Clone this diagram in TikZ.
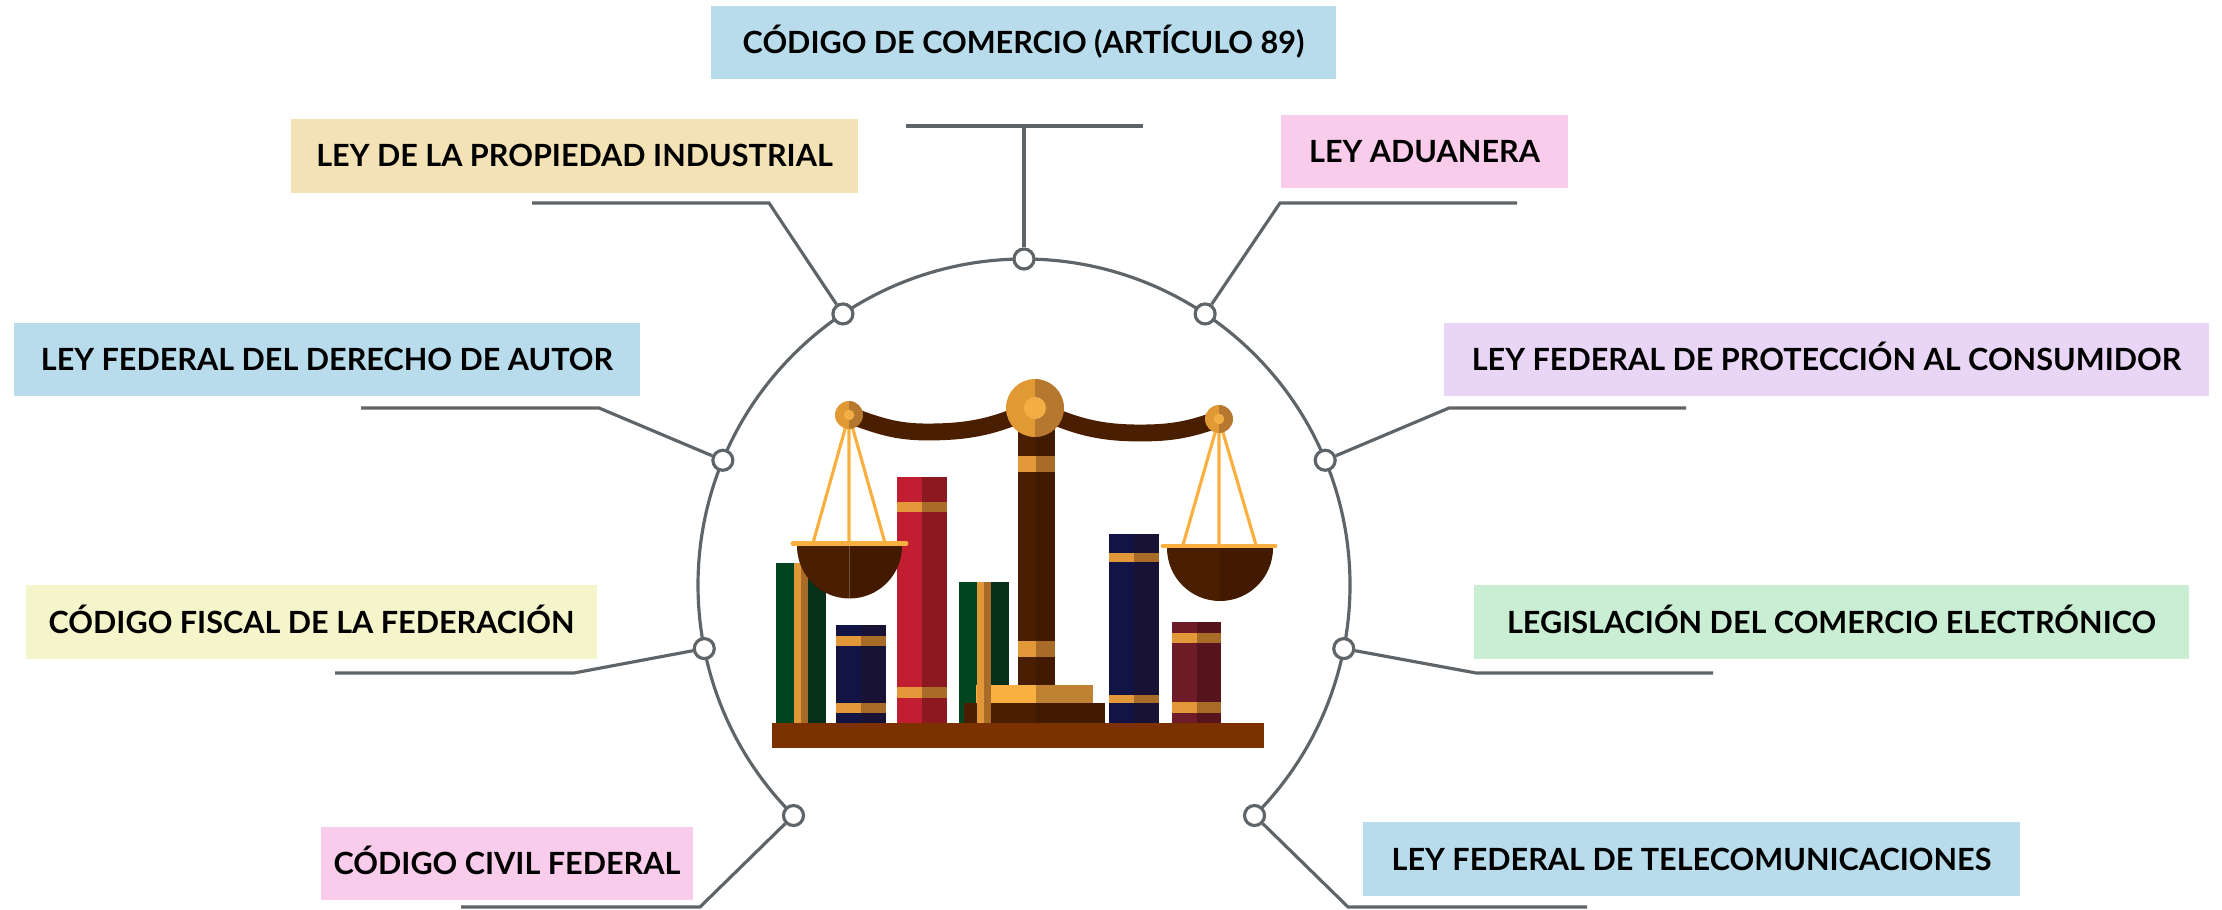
\documentclass[tikz,border=0pt]{standalone}
\usepackage{fontspec}
\setmainfont{Lato}
\definecolor{linegray}{HTML}{5F6468}
\definecolor{boxBlue}{HTML}{B8DCEB}
\definecolor{boxTan}{HTML}{F3E2B5}
\definecolor{boxPink}{HTML}{F9CCEC}
\definecolor{boxLilac}{HTML}{E9D5F5}
\definecolor{boxYellow}{HTML}{F5F5CC}
\definecolor{boxMint}{HTML}{C9EED4}
\definecolor{brownL}{HTML}{4A1E00}
\definecolor{brownD}{HTML}{421A00}
\definecolor{shelf}{HTML}{7B3100}
\definecolor{goldL}{HTML}{FAB040}
\definecolor{goldD}{HTML}{BE8232}
\definecolor{bandL}{HTML}{E29838}
\definecolor{bandD}{HTML}{A86C28}
\definecolor{knobL}{HTML}{E19934}
\definecolor{knobD}{HTML}{B5782E}
\definecolor{knobIn}{HTML}{F2AE44}
\definecolor{greenL}{HTML}{004520}
\definecolor{greenD}{HTML}{073018}
\definecolor{navyL}{HTML}{121446}
\definecolor{navyD}{HTML}{181234}
\definecolor{redL}{HTML}{C11E32}
\definecolor{redD}{HTML}{8C1820}
\definecolor{maroonL}{HTML}{6E1C28}
\definecolor{maroonD}{HTML}{58141C}
\begin{document}
\begin{tikzpicture}[x=0.01cm, y=0.01cm,
    wire/.style={draw=linegray, line width=0.9pt},
    dot/.style={circle, draw=linegray, fill=white, line width=0.9pt, minimum size=0.2cm, inner sep=0pt},
    law/.style={inner sep=0pt, minimum height=0.73cm, text height=0.22cm, text depth=0pt, font=\fontsize{8.7}{10}\selectfont\bfseries},
    beam/.style={draw=brownL, line width=4.8pt}]
    \useasboundingbox (0,0) rectangle (2222,909);

    % labels
    \node[law, fill=boxBlue, minimum width=6.25cm] (lCom) at (1023.5,866.5) {CÓDIGO DE COMERCIO (ARTÍCULO 89)};
    \node[law, fill=boxTan, minimum width=5.67cm] (lProp) at (574.5,753) {LEY DE LA PROPIEDAD INDUSTRIAL};
    \node[law, fill=boxPink, minimum width=2.87cm] (lAdu) at (1424.5,757.5) {LEY ADUANERA};
    \node[law, fill=boxBlue, minimum width=6.26cm] (lAut) at (327,549.5) {LEY FEDERAL DEL DERECHO DE AUTOR};
    \node[law, fill=boxLilac, minimum width=7.65cm] (lCons) at (1826.5,549.5) {LEY FEDERAL DE PROTECCIÓN AL CONSUMIDOR};
    \node[law, fill=boxYellow, minimum width=5.71cm] (lFis) at (311.5,287) {CÓDIGO FISCAL DE LA FEDERACIÓN};
    \node[law, fill=boxMint, minimum width=7.15cm] (lElec) at (1831.5,287) {LEGISLACIÓN DEL COMERCIO ELECTRÓNICO};
    \node[law, fill=boxPink, minimum width=3.72cm] (lCiv) at (507,45.5) {CÓDIGO CIVIL FEDERAL};
    \node[law, fill=boxBlue, minimum width=6.57cm] (lTel) at (1691.5,50) {LEY FEDERAL DE TELECOMUNICACIONES};

    % ring
    \coordinate (c) at (1024,324);
    \draw[wire] (c) ++(-45:326) arc[start angle=-45, end angle=225, radius=326];

    % books
    \foreach \xa/\xm/\xb/\yt/\cl/\cd in {776/801/826/346/greenL/greenD, 836/861/886/284/navyL/navyD,
        897/922/947/432/redL/redD, 959/984/1009/327/greenL/greenD,
        1109/1134/1159/375/navyL/navyD, 1172/1197/1221/287/maroonL/maroonD}
    {
        \fill[\cl] (\xa,186) rectangle (\xm,\yt);
        \fill[\cd] (\xm,186) rectangle (\xb,\yt);
    }
    \fill[shelf] (772,161) rectangle (1264,186);

    % stand
    \fill[brownL] (964,186) rectangle (1036,206);
    \fill[brownD] (1036,186) rectangle (1105,206);
    \fill[goldL] (976,206) rectangle (1036,224);
    \fill[goldD] (1036,206) rectangle (1093,224);
    \fill[brownL] (1018,224) rectangle (1036,501);
    \fill[brownD] (1036,224) rectangle (1055,501);

    % bands
    \foreach \xa/\xm/\xb/\ya/\yb in {794/801/808/186/346, 977/984/991/186/327,
        836/861/886/263/273, 836/861/886/196/206, 897/922/947/397/407, 897/922/947/211/222,
        1109/1134/1159/347/356, 1109/1134/1159/206/214, 1172/1197/1221/266/276, 1172/1197/1221/196/207,
        1018/1036/1055/437/453, 1018/1036/1055/252/268}
    {
        \fill[bandL] (\xa,\ya) rectangle (\xm,\yb);
        \fill[bandD] (\xm,\ya) rectangle (\xb,\yb);
    }

    % beam
    \coordinate (lk) at (849,494);
    \coordinate (ck) at (1035,501);
    \coordinate (rk) at (1219,490);
    \draw[beam] (lk) to[out=-20, in=180] (927,477) to[out=0, in=-155] (ck);
    \draw[beam] (ck) to[out=-25, in=180] (1140,476) to[out=0, in=-160] (rk);

    % pans
    \draw[goldL, line width=0.9pt] (813,366) -- (lk) -- (885,366) (lk) -- (849,366);
    \draw[goldL, line width=0.9pt] (1183,364) -- (rk) -- (1256,364) (rk) -- (1219,364);
    \fill[brownL] (849.5,363) -- (797,363) arc[start angle=180, end angle=270, radius=52.5] -- cycle;
    \fill[brownD] (849.5,363) -- (849.5,310.5) arc[start angle=270, end angle=360, radius=52.5] -- cycle;
    \fill[brownL] (1220,361) -- (1167,361) arc[start angle=180, end angle=270, radius=53] -- cycle;
    \fill[brownD] (1220,361) -- (1220,308) arc[start angle=270, end angle=360, radius=53] -- cycle;
    \draw[goldL, line width=1.4pt, line cap=round] (793,365.5) -- (906,365.5);
    \draw[goldL, line width=1.4pt, line cap=round] (1163,363) -- (1275,363);

    % knobs
    \foreach \p/\r in {lk/14, rk/14, ck/29}
    {
        \fill[knobL] (\p) ++(0,-\r) arc[start angle=270, end angle=90, radius=\r] -- cycle;
        \fill[knobD] (\p) ++(0,-\r) arc[start angle=-90, end angle=90, radius=\r] -- cycle;
        \fill[knobIn] (\p) circle[radius=\r*0.38];
    }

    % dots
    \path (c) ++(90:326) node[dot] (dCom) {};
    \path (c) ++(123.75:326) node[dot] (dProp) {};
    \path (c) ++(56.25:326) node[dot] (dAdu) {};
    \path (c) ++(157.5:326) node[dot] (dAut) {};
    \path (c) ++(22.5:326) node[dot] (dCons) {};
    \path (c) ++(191.25:326) node[dot] (dFis) {};
    \path (c) ++(-11.25:326) node[dot] (dElec) {};
    \path (c) ++(225:326) node[dot] (dCiv) {};
    \path (c) ++(-45:326) node[dot] (dTel) {};

    % leaders
    \coordinate (eCom) at (1024,783);
    \coordinate (eComL) at (906,783);
    \coordinate (eComR) at (1143,783);
    \draw[wire] (dCom) -- (eCom);
    \draw[wire] (eComL) -- (eComR);
    \coordinate (eProp) at (769,706);
    \coordinate (fProp) at (532,706);
    \draw[wire] (dProp) -- (eProp) -- (fProp);
    \coordinate (eAdu) at (1280,706);
    \coordinate (fAdu) at (1517,706);
    \draw[wire] (dAdu) -- (eAdu) -- (fAdu);
    \coordinate (eAut) at (599,501);
    \coordinate (fAut) at (361,501);
    \draw[wire] (dAut) -- (eAut) -- (fAut);
    \coordinate (eCons) at (1449,501);
    \coordinate (fCons) at (1686,501);
    \draw[wire] (dCons) -- (eCons) -- (fCons);
    \coordinate (eFis) at (574,236);
    \coordinate (fFis) at (335,236);
    \draw[wire] (dFis) -- (eFis) -- (fFis);
    \coordinate (eElec) at (1476,236);
    \coordinate (fElec) at (1713,236);
    \draw[wire] (dElec) -- (eElec) -- (fElec);
    \coordinate (eCiv) at (700,2);
    \coordinate (fCiv) at (461,2);
    \draw[wire] (dCiv) -- (eCiv) -- (fCiv);
    \coordinate (eTel) at (1348,2);
    \coordinate (fTel) at (1587,2);
    \draw[wire] (dTel) -- (eTel) -- (fTel);
\end{tikzpicture}
\end{document}
